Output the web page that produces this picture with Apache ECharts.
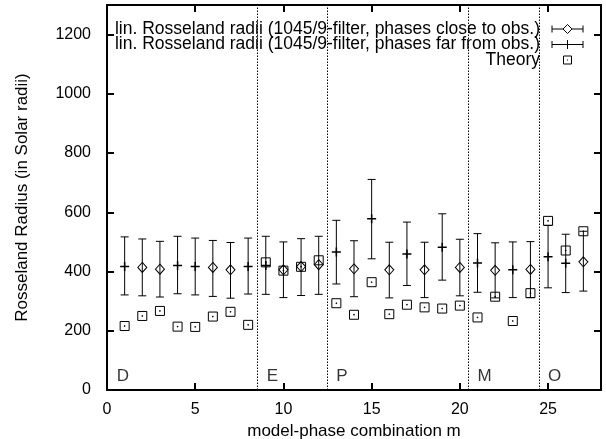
<!DOCTYPE html>
<html>
<head>
<meta charset="utf-8">
<script src="https://cdn.jsdelivr.net/npm/echarts@6/dist/echarts.min.js"></script>
<style>
html,body{margin:0;padding:0;background:#fff;}
#c{width:606px;height:439px;}
</style>
</head>
<body>
<div id="c"></div>
<script>
// m values and radii for phases close to observation (diamonds)
var mClose = [2, 3, 6, 7, 10, 11, 12, 14, 16, 18, 20, 22, 24, 27];
var closeVal = [414, 408, 414, 406, 406, 417, 423, 409, 406, 406, 414, 404, 407, 433];
var closeLow = [318, 314, 316, 310, 312, 319, 323, 315, 311, 312, 318, 311, 312, 334];
var closeHigh = [510, 502, 505, 498, 500, 511, 519, 504, 499, 499, 509, 497, 501, 536];

// m values and radii for phases far from observation (plus)
var mFar = [1, 4, 5, 8, 9, 13, 15, 17, 19, 21, 23, 25, 26];
var farVal = [417, 420, 417, 417, 420, 466, 578, 459, 482, 429, 406, 450, 428];
var farLow = [321, 325, 321, 324, 323, 358, 443, 353, 371, 330, 312, 345, 329];
var farHigh = [517, 519, 513, 513, 519, 573, 711, 567, 595, 528, 500, 556, 526];

// theory values, m = 1..27
var mTheory = [1,2,3,4,5,6,7,8,9,10,11,12,13,14,15,16,17,18,19,20,21,22,23,24,25,26,27];
var theoryVal = [216, 250, 267, 214, 213, 248, 264, 220, 431, 403, 416, 438, 293, 254, 364, 256, 288, 279, 275, 285, 245, 315, 233, 327, 571, 471, 536];

// group separators and labels
var separators = [8.5, 12.5, 20.5, 24.5];
var groupNames = ['D', 'E', 'P', 'M', 'O'];
var groupX = [0.55, 9.05, 13.0, 21.0, 25.0];
var groupY = [47, 47, 47, 47, 47];

var xTicks = [0, 5, 10, 15, 20, 25];
var yTicks = [0, 200, 400, 600, 800, 1000, 1200];

var legendNames = [
  'lin. Rosseland radii (1045/9-filter, phases close to obs.)',
  'lin. Rosseland radii (1045/9-filter, phases far from obs.)',
  'Theory'
];

var FONT = '"Liberation Sans", Arial, Helvetica, sans-serif';
var plusPath = 'path://M0,5H10M5,0V10';
var boxPath = 'path://M0,0H10V10H0ZM4.6,4.6H5.4V5.4H4.6Z';

function zip3(xs, a, b) { return xs.map(function (x, i) { return [x, a[i], b[i]]; }); }
function zip2(xs, a) { return xs.map(function (x, i) { return [x, a[i]]; }); }

function errRender(params, api) {
  var x = api.value(0);
  var lo = api.coord([x, api.value(1)]);
  var hi = api.coord([x, api.value(2)]);
  var cap = 4;
  var st = { stroke: '#000', lineWidth: 1 };
  return {
    type: 'group',
    children: [
      { type: 'line', shape: { x1: lo[0], y1: lo[1], x2: hi[0], y2: hi[1] }, style: st },
      { type: 'line', shape: { x1: lo[0] - cap, y1: lo[1], x2: lo[0] + cap, y2: lo[1] }, style: st },
      { type: 'line', shape: { x1: hi[0] - cap, y1: hi[1], x2: hi[0] + cap, y2: hi[1] }, style: st }
    ]
  };
}

var chart = echarts.init(document.getElementById('c'), null, { renderer: 'canvas' });

var axisCommon = {
  type: 'value',
  axisLine: { show: true, onZero: false, lineStyle: { color: '#000', width: 2 } },
  axisTick: { show: true, inside: true, length: 7, lineStyle: { color: '#000', width: 2 } },
  splitLine: { show: false }
};

// legend graphics
var lx0 = 552, lx1 = 583, lxc = 567.5, textRight = 540;
var rowY = [29, 44.5, 60];
var graphics = [];
legendNames.forEach(function (n, i) {
  graphics.push({
    type: 'text', x: textRight, y: rowY[i],
    style: { text: n, font: '17.5px ' + FONT, fill: '#000', textAlign: 'right', textVerticalAlign: 'middle' }
  });
});
[0, 1].forEach(function (i) {
  var y = rowY[i];
  var st = { stroke: '#000', lineWidth: 1, fill: null };
  graphics.push({ type: 'line', shape: { x1: lx0, y1: y, x2: lx1, y2: y }, style: st });
  graphics.push({ type: 'line', shape: { x1: lx0, y1: y - 3.5, x2: lx0, y2: y + 3.5 }, style: st });
  graphics.push({ type: 'line', shape: { x1: lx1, y1: y - 3.5, x2: lx1, y2: y + 3.5 }, style: st });
});
graphics.push({ type: 'polygon', shape: { points: [[lxc, rowY[0] - 4.5], [lxc + 4.5, rowY[0]], [lxc, rowY[0] + 4.5], [lxc - 4.5, rowY[0]]] }, style: { fill: '#fff', stroke: '#000', lineWidth: 1 } });
graphics.push({ type: 'line', shape: { x1: lxc, y1: rowY[1] - 4.5, x2: lxc, y2: rowY[1] + 4.5 }, style: { stroke: '#000', lineWidth: 1 } });
graphics.push({ type: 'rect', shape: { x: lxc - 4, y: rowY[2] - 4, width: 8, height: 8 }, style: { fill: null, stroke: '#000', lineWidth: 1 } });
graphics.push({ type: 'rect', shape: { x: lxc - 0.5, y: rowY[2] - 0.5, width: 1, height: 1 }, style: { fill: '#000' } });

var plainLabel = function (v) { return String(v); };

var option = {
  animation: false,
  backgroundColor: '#fff',
  textStyle: { fontFamily: FONT },
  grid: { left: 107, right: 5, top: 5, bottom: 49, containLabel: false, outerBoundsMode: 'none' },
  xAxis: [
    Object.assign({}, axisCommon, {
      position: 'bottom', min: 0, max: 28, interval: 5,
      name: 'model-phase combination m', nameLocation: 'middle', nameGap: 24,
      nameTextStyle: { fontSize: 17, color: '#000', fontFamily: FONT },
      axisLabel: { show: true, fontSize: 16, color: '#000', margin: 12, fontFamily: FONT, showMaxLabel: false, formatter: plainLabel }
    }),
    Object.assign({}, axisCommon, {
      position: 'top', min: 0, max: 28, interval: 5,
      axisLabel: { show: false }
    })
  ],
  yAxis: [
    Object.assign({}, axisCommon, {
      position: 'left', min: 0, max: 1300, interval: 200,
      name: 'Rosseland Radius (in Solar radii)', nameLocation: 'middle', nameGap: 76,
      nameTextStyle: { fontSize: 17, color: '#000', fontFamily: FONT },
      axisLabel: { show: true, fontSize: 16, color: '#000', margin: 16, fontFamily: FONT, showMaxLabel: false, formatter: plainLabel }
    }),
    Object.assign({}, axisCommon, {
      position: 'right', min: 0, max: 1300, interval: 200,
      axisLabel: { show: false }
    })
  ],
  graphic: graphics,
  series: [
    {
      name: 'sep', type: 'scatter', data: [], silent: true,
      markLine: {
        silent: true, symbol: ['none', 'none'], label: { show: false },
        lineStyle: { color: '#000', type: [1.5, 1.5], width: 1 },
        data: separators.map(function (s) { return { xAxis: s }; })
      }
    },
    {
      name: 'groups', type: 'scatter', symbolSize: 0, silent: true,
      data: groupX.map(function (x, i) { return { value: [x, groupY[i]], name: groupNames[i] }; }),
      label: {
        show: true, position: [0, 0], align: 'left', verticalAlign: 'middle',
        formatter: function (p) { return p.name; },
        fontSize: 17, color: '#000', fontFamily: FONT
      }
    },
    { name: 'errClose', type: 'custom', renderItem: errRender, data: zip3(mClose, closeLow, closeHigh), encode: { x: 0, y: [1, 2] }, z: 2 },
    { name: 'errFar', type: 'custom', renderItem: errRender, data: zip3(mFar, farLow, farHigh), encode: { x: 0, y: [1, 2] }, z: 2 },
    {
      name: legendNames[0], type: 'scatter', symbol: 'diamond', symbolSize: [9, 10],
      data: zip2(mClose, closeVal), z: 3,
      itemStyle: { color: 'rgba(255,255,255,0)', borderColor: '#000', borderWidth: 1, opacity: 1 }
    },
    {
      name: legendNames[1], type: 'scatter', symbol: plusPath, symbolSize: 9,
      data: zip2(mFar, farVal), z: 3,
      itemStyle: { color: 'rgba(0,0,0,0)', borderColor: '#000', borderWidth: 1.5, opacity: 1 }
    },
    {
      name: legendNames[2], type: 'scatter', symbol: boxPath, symbolSize: 9,
      data: zip2(mTheory, theoryVal), z: 4,
      itemStyle: { color: 'rgba(0,0,0,0)', borderColor: '#000', borderWidth: 1, opacity: 1 }
    }
  ]
};
chart.setOption(option);
</script>
</body>
</html>
